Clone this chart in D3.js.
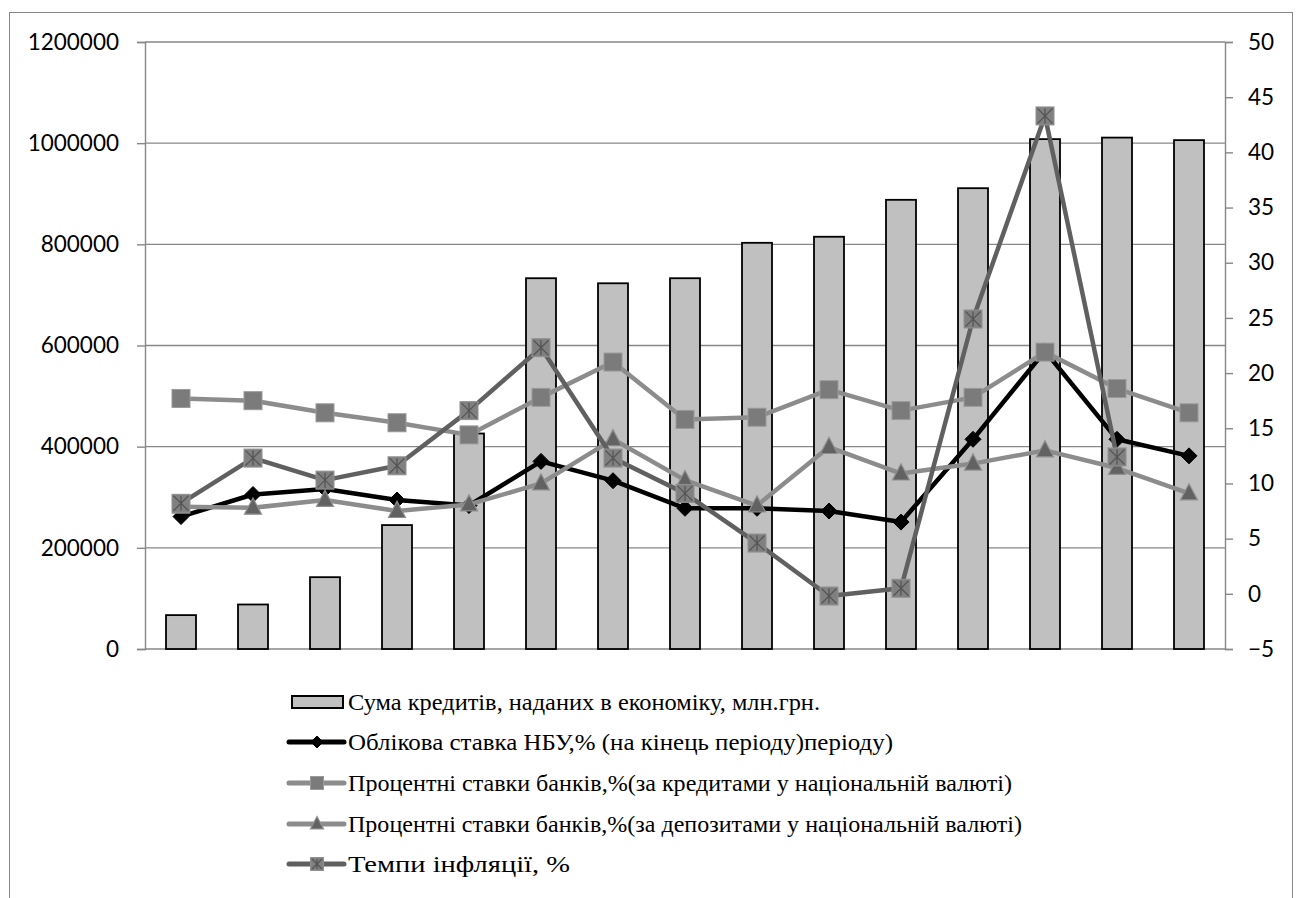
<!DOCTYPE html>
<html>
<head>
<meta charset="utf-8">
<script src="https://cdn.jsdelivr.net/npm/d3@7/dist/d3.min.js"></script>
<style>
  html, body { margin: 0; padding: 0; background: #fff; }
  svg { display: block; }
  .legtext { font-family: "Liberation Serif", "Times New Roman", "DejaVu Serif", "Liberation Sans Narrow", serif; }
</style>
</head>
<body>
<svg id="chart" width="1300" height="898"></svg>
<script>
// ---- data ----
const categories = ["2003","2004","2005","2006","2007","2008","2009","2010","2011","2012","2013","2014","2015","2016","2017"];
const credits = [67000, 88000, 142000, 245000, 426000, 733000, 723000, 733000, 803000, 815000, 888000, 911000, 1008000, 1011000, 1006000];
const nbuRate = [7, 9, 9.5, 8.5, 8, 12, 10.25, 7.75, 7.75, 7.5, 6.5, 14, 22, 14, 12.5];
const loanRate = [17.7, 17.5, 16.4, 15.5, 14.4, 17.8, 21.0, 15.8, 16.0, 18.5, 16.6, 17.8, 21.9, 18.6, 16.4];
const depositRate = [7.9, 7.8, 8.5, 7.5, 8.1, 10.0, 14.0, 10.3, 8.0, 13.3, 10.9, 11.8, 13.0, 11.4, 9.1];
const inflation = [8.2, 12.3, 10.3, 11.6, 16.6, 22.3, 12.3, 9.1, 4.6, -0.2, 0.5, 24.9, 43.3, 12.4];
const leftTicks = [0, 200000, 400000, 600000, 800000, 1000000, 1200000];
const rightTicks = [-5, 0, 5, 10, 15, 20, 25, 30, 35, 40, 45, 50];
const legendLabels = [
  "Сума кредитів, наданих в економіку, млн.грн.",
  "Облікова ставка НБУ,% (на кінець періоду)періоду)",
  "Процентні ставки банків,%(за кредитами у національній валюті)",
  "Процентні ставки банків,%(за депозитами у національній валюті)",
  "Темпи інфляції,  %"
];

// ---- layout ----
const svg = d3.select("#chart");
const L = 145, R = 1225, T = 42, B = 649;
const axisColor = "#878787";
const tickFont = "Lato, 'Open Sans', sans-serif";

svg.append("rect").attr("x", 9.5).attr("y", 12.5).attr("width", 1283).attr("height", 900)
  .attr("fill", "none").attr("stroke", axisColor).attr("stroke-width", 1);

const x = d3.scaleBand().domain(categories).range([L, R]).paddingInner(42/72).paddingOuter(21/72);
const xc = d => x(d) + x.bandwidth() / 2;
const yL = d3.scaleLinear().domain([0, 1200000]).range([B, T]);
const yR = d3.scaleLinear().domain([-5, 50]).range([B, T]);

// gridlines
svg.append("g").selectAll("line").data(leftTicks).join("line")
  .attr("x1", L).attr("x2", R).attr("y1", d => yL(d)).attr("y2", d => yL(d))
  .attr("stroke", axisColor).attr("stroke-width", 1.4);

// axes
const gL = svg.append("g").attr("transform", `translate(${L},0)`)
  .call(d3.axisLeft(yL).tickValues(leftTicks).tickFormat(d3.format("d")).tickSize(8).tickPadding(18));
const gR = svg.append("g").attr("transform", `translate(${R},0)`)
  .call(d3.axisRight(yR).tickValues(rightTicks).tickFormat(d3.format("d")).tickSize(8).tickPadding(15));
[gL, gR].forEach(g => {
  g.select(".domain").attr("stroke", axisColor).attr("stroke-width", 1.4);
  g.selectAll(".tick line").attr("stroke", axisColor).attr("stroke-width", 1.4);
  g.selectAll(".tick text").attr("fill", "#000").style("font-family", tickFont).style("font-size", "22.5px");
});
gR.selectAll(".tick text").attr("text-anchor", "start");

// bars
svg.append("g").selectAll("rect").data(credits).join("rect")
  .attr("x", (d, i) => x(categories[i]))
  .attr("y", d => yL(d))
  .attr("width", x.bandwidth())
  .attr("height", d => yL(0) - yL(d))
  .attr("fill", "#c0c0c0").attr("stroke", "#000").attr("stroke-width", 1.8);

// marker drawers
function diamond(g, s) {
  const a = s / 2;
  g.append("path").attr("d", `M0,${-a}L${a},0L0,${a}L${-a},0Z`)
    .attr("fill", "#000").attr("stroke", "#000").attr("stroke-width", 1);
}
function square(g, s) {
  g.append("rect").attr("x", -s/2).attr("y", -s/2).attr("width", s).attr("height", s)
    .attr("fill", "#7b7b7b").attr("stroke", "#9a9a9a").attr("stroke-width", 1);
}
function triangle(g, s) {
  const h = s * 0.95;
  g.append("path").attr("d", `M0,${-h*0.6}L${s/2},${h*0.4}L${-s/2},${h*0.4}Z`)
    .attr("fill", "#626262").attr("stroke", "#8f8f8f").attr("stroke-width", 1.2);
}
function starBox(g, s) {
  g.append("rect").attr("x", -s/2).attr("y", -s/2).attr("width", s).attr("height", s)
    .attr("fill", "#808080").attr("stroke", "#909090").attr("stroke-width", 1);
  const a = s/2 - 1.5;
  g.append("path").attr("d", `M${-a},${-a}L${a},${a}M${-a},${a}L${a},${-a}M0,${-a}L0,${a}`)
    .attr("stroke", "#555").attr("stroke-width", 1.3).attr("fill", "none");
}

const series = [
  { values: nbuRate, color: "#000000", width: 4.5, marker: diamond, size: 16, legSize: 12 },
  { values: loanRate, color: "#8c8c8c", width: 4.5, marker: square, size: 18, legSize: 13 },
  { values: depositRate, color: "#8c8c8c", width: 4.5, marker: triangle, size: 17, legSize: 13 },
  { values: inflation, color: "#606060", width: 4.5, marker: starBox, size: 18, legSize: 13 }
];

series.forEach(s => {
  const line = d3.line().x((d, i) => xc(categories[i])).y(d => yR(d));
  svg.append("path").datum(s.values).attr("d", line)
    .attr("fill", "none").attr("stroke", s.color).attr("stroke-width", s.width)
    .attr("stroke-linejoin", "round");
  const mg = svg.append("g");
  s.values.forEach((v, i) => {
    const g = mg.append("g").attr("transform", `translate(${xc(categories[i])},${yR(v)})`);
    s.marker(g, s.size);
  });
});

// legend
const legY = [702, 742, 783, 824, 864];
const legW = [472, 545, 664, 674, 222];
const lg = svg.append("g");
legendLabels.forEach((lab, i) => {
  const y = legY[i];
  if (i === 0) {
    lg.append("rect").attr("x", 292).attr("y", y - 6).attr("width", 51).attr("height", 12)
      .attr("fill", "#c0c0c0").attr("stroke", "#000").attr("stroke-width", 2);
  } else {
    const s = series[i - 1];
    lg.append("line").attr("x1", 289).attr("x2", 344).attr("y1", y).attr("y2", y)
      .attr("stroke", s.color).attr("stroke-width", 5).attr("stroke-linecap", "round");
    const g = lg.append("g").attr("transform", `translate(317,${y})`);
    s.marker(g, s.legSize);
  }
  lg.append("text").attr("class", "legtext").attr("x", 348).attr("y", y + 8)
    .attr("textLength", legW[i]).attr("lengthAdjust", "spacingAndGlyphs")
    .style("font-size", "24px").attr("fill", "#000").text(lab);
});
</script>
</body>
</html>
